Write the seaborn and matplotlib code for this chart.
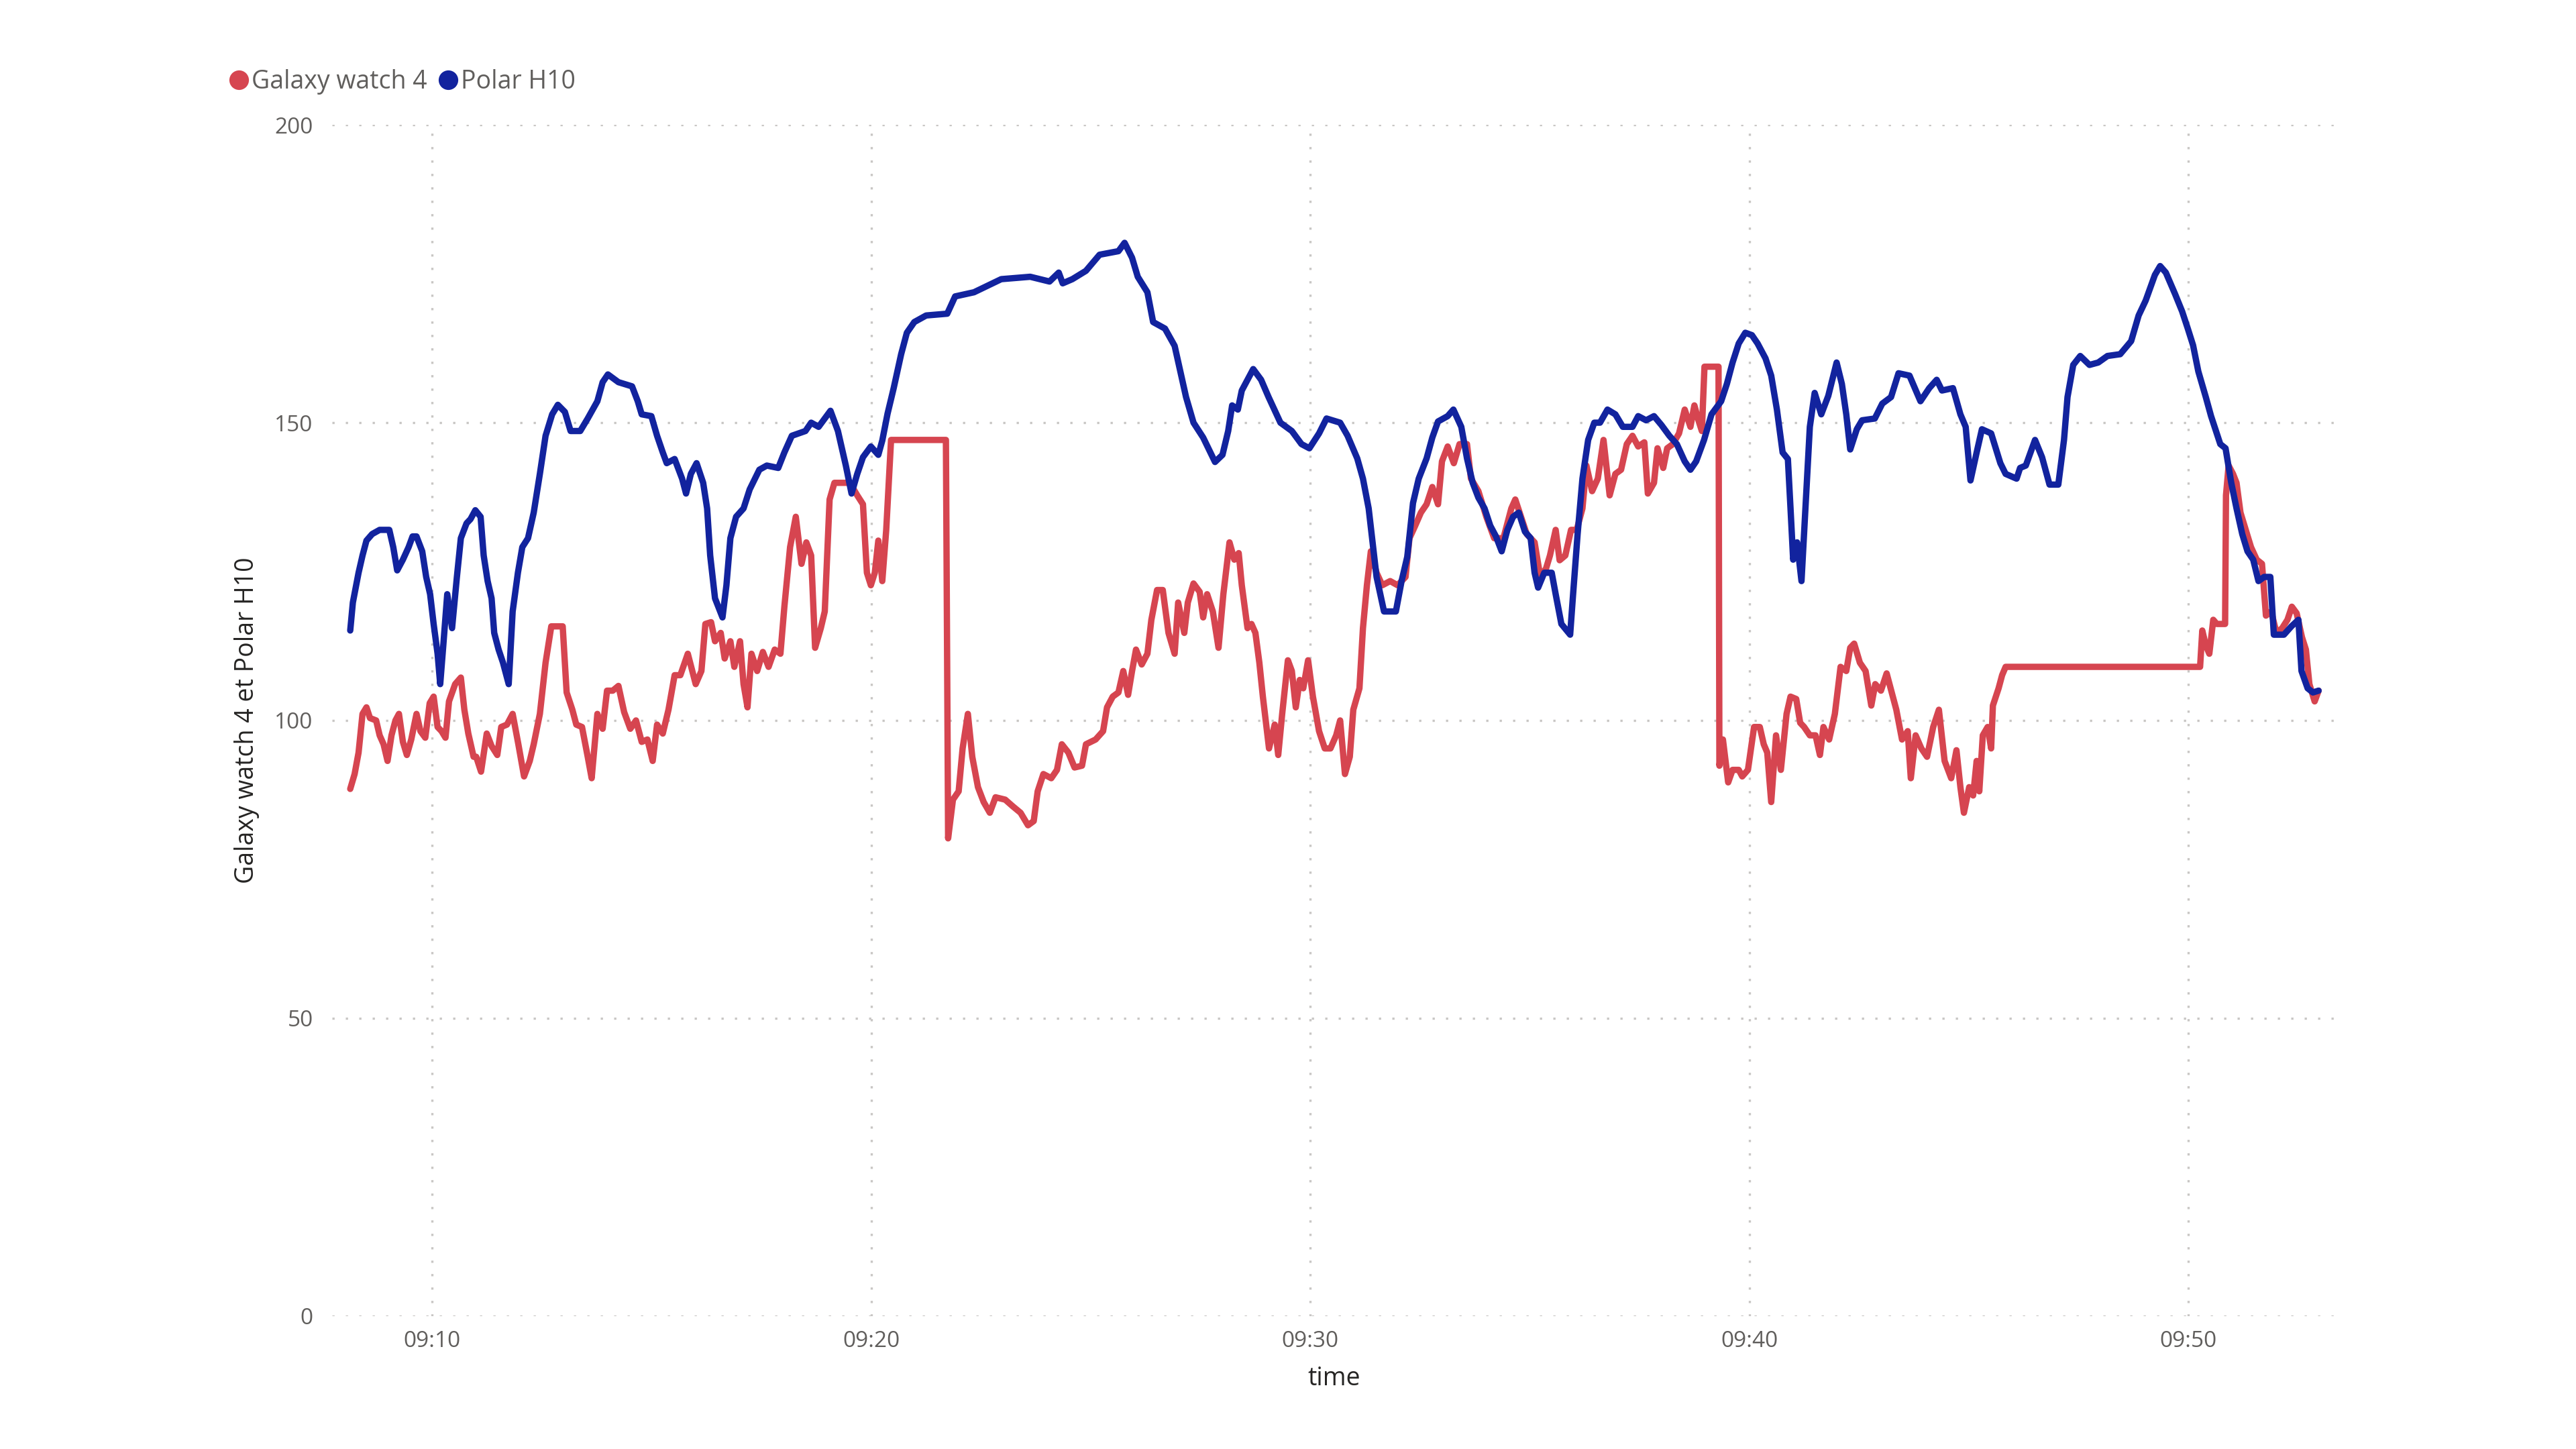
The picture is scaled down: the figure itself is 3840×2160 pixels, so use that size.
import numpy as np
import pandas as pd
import matplotlib
matplotlib.use('Agg')
import matplotlib.pyplot as plt
import matplotlib.dates as mdates
from matplotlib.lines import Line2D
import seaborn as sns

# minutes after 09:00 and heart rate (bpm)
galaxy_min = [8.13, 8.23, 8.32, 8.41, 8.50, 8.58, 8.72, 8.80, 8.89, 8.98, 9.07, 9.16, 9.24, 9.33, 9.42,
              9.52, 9.64, 9.73, 9.84, 9.94, 10.03, 10.12, 10.21, 10.30, 10.38, 10.52, 10.65, 10.73,
              10.82, 10.94, 11.00, 11.11, 11.24, 11.35, 11.48, 11.57, 11.70, 11.83, 11.96, 12.09, 12.22,
              12.31, 12.45, 12.58, 12.71, 12.97, 13.06, 13.19, 13.28, 13.41, 13.54, 13.63, 13.76, 13.88,
              13.98, 14.11, 14.24, 14.37, 14.51, 14.64, 14.77, 14.90, 15.02, 15.12, 15.25, 15.38, 15.52,
              15.65, 15.82, 16.00, 16.13, 16.22, 16.35, 16.44, 16.57, 16.66, 16.79, 16.88, 17.01, 17.09,
              17.18, 17.27, 17.40, 17.53, 17.66, 17.80, 17.93, 18.02, 18.15, 18.28, 18.41, 18.52, 18.63,
              18.72, 18.85, 18.94, 19.05, 19.16, 19.51, 19.68, 19.81, 19.90, 19.99, 20.08, 20.16, 20.25,
              20.34, 20.45, 21.70, 21.75, 21.86, 21.99, 22.08, 22.20, 22.30, 22.43, 22.56, 22.70, 22.83,
              23.05, 23.22, 23.40, 23.57, 23.70, 23.79, 23.92, 24.10, 24.23, 24.34, 24.49, 24.63, 24.80,
              24.89, 25.11, 25.28, 25.37, 25.50, 25.63, 25.74, 25.85, 25.94, 26.03, 26.16, 26.29, 26.38,
              26.51, 26.64, 26.77, 26.91, 26.99, 27.13, 27.21, 27.34, 27.48, 27.56, 27.65, 27.78, 27.91,
              28.02, 28.16, 28.27, 28.37, 28.44, 28.57, 28.66, 28.75, 28.84, 28.92, 29.06, 29.19, 29.27,
              29.36, 29.49, 29.58, 29.67, 29.76, 29.84, 29.95, 30.06, 30.20, 30.33, 30.46, 30.59, 30.68,
              30.79, 30.90, 30.98, 31.12, 31.20, 31.29, 31.38, 31.51, 31.64, 31.82, 31.99, 32.17, 32.26,
              32.39, 32.52, 32.65, 32.78, 32.91, 33.00, 33.13, 33.27, 33.40, 33.57, 33.66, 33.83, 34.01,
              34.19, 34.40, 34.58, 34.67, 34.80, 34.93, 35.11, 35.24, 35.37, 35.46, 35.59, 35.68, 35.81,
              35.94, 36.07, 36.20, 36.29, 36.42, 36.55, 36.68, 36.82, 36.95, 37.08, 37.21, 37.34, 37.47,
              37.61, 37.69, 37.83, 37.91, 38.04, 38.13, 38.26, 38.40, 38.53, 38.66, 38.75, 38.83, 38.92,
              38.98, 39.30, 39.32, 39.40, 39.52, 39.62, 39.76, 39.84, 39.97, 40.11, 40.24, 40.33, 40.41,
              40.50, 40.61, 40.72, 40.85, 40.94, 41.07, 41.16, 41.25, 41.38, 41.51, 41.61, 41.69, 41.82,
              41.95, 42.08, 42.21, 42.30, 42.39, 42.52, 42.65, 42.78, 42.87, 43.00, 43.13, 43.22, 43.35,
              43.48, 43.61, 43.68, 43.79, 43.92, 44.05, 44.19, 44.32, 44.45, 44.60, 44.72, 44.81, 44.89,
              45.01, 45.10, 45.18, 45.24, 45.32, 45.43, 45.51, 45.55, 45.68, 45.76, 45.84, 50.27, 50.32,
              50.40, 50.48, 50.57, 50.65, 50.84, 50.86, 50.92, 51.02, 51.10, 51.19, 51.31, 51.43, 51.56,
              51.68, 51.77, 51.89, 52.01, 52.14, 52.26, 52.36, 52.47, 52.59, 52.68, 52.76, 52.88, 52.97]
galaxy_bpm = [88.5, 91.0, 94.6, 101.1, 102.2, 100.4, 100.0, 97.5, 96.0, 93.2, 97.5, 100.0, 101.1, 96.4, 94.2,
              96.8, 101.1, 98.2, 97.1, 102.9, 104.0, 98.9, 98.2, 97.1, 103.2, 106.1, 107.2, 101.8,
              97.8, 93.9, 93.9, 91.4, 97.8, 95.7, 94.2, 98.9, 99.3, 101.1, 96.0, 90.6, 93.2,
              96.0, 101.1, 109.7, 115.8, 115.8, 104.7, 101.8, 99.3, 98.9, 93.9, 90.3, 101.1, 98.6,
              105.0, 105.0, 105.8, 101.4, 98.6, 100.0, 96.4, 96.8, 93.2, 99.3, 97.8, 101.8, 107.6,
              107.6, 111.2, 106.1, 108.3, 116.2, 116.5, 113.3, 114.7, 110.4, 113.3, 109.0, 113.3, 106.1,
              102.2, 111.2, 108.3, 111.5, 109.0, 111.9, 111.2, 119.1, 129.1, 134.2, 126.3, 129.9, 127.7,
              112.2, 115.5, 118.3, 137.1, 139.9, 139.9, 137.8, 136.3, 124.8, 122.7, 124.8, 130.2, 123.4,
              132.0, 147.1, 147.1, 80.2, 86.7, 88.1, 95.3, 101.1, 93.9, 88.8, 86.3, 84.5, 87.1,
              86.7, 85.6, 84.5, 82.4, 83.1, 88.1, 91.0, 90.3, 91.7, 96.0, 94.6, 92.1, 92.4,
              96.0, 96.8, 98.2, 102.2, 104.0, 104.7, 108.3, 104.3, 108.3, 111.9, 109.4, 111.2, 116.9,
              121.9, 121.9, 114.7, 111.2, 119.8, 114.7, 119.8, 123.0, 121.6, 117.3, 121.2, 118.3, 112.2,
              121.2, 129.9, 127.0, 128.1, 122.7, 115.5, 116.2, 114.7, 109.7, 104.0, 95.3, 99.3, 94.2,
              101.1, 110.1, 108.3, 102.2, 106.8, 105.4, 110.1, 104.0, 98.2, 95.3, 95.3, 97.5, 100.0,
              91.0, 93.9, 101.8, 105.4, 115.5, 122.7, 128.4, 124.8, 122.7, 123.4, 122.7, 124.1, 130.6,
              132.7, 134.9, 136.3, 139.2, 136.3, 143.5, 146.0, 143.2, 146.4, 146.4, 140.6, 138.5, 134.2,
              130.6, 130.6, 135.6, 137.1, 134.2, 131.3, 129.9, 124.1, 125.5, 127.7, 132.0, 126.9, 127.7,
              132.0, 132.0, 135.6, 142.8, 138.5, 140.6, 147.1, 137.8, 141.4, 142.1, 146.4, 147.8, 146.0,
              146.7, 138.1, 139.9, 145.7, 142.4, 145.7, 146.4, 148.2, 152.2, 149.3, 152.9, 150.7, 148.6,
              159.4, 159.4, 92.4, 96.8, 89.6, 91.7, 91.7, 90.6, 91.7, 98.9, 98.9, 96.0, 94.6,
              86.3, 97.5, 91.7, 101.1, 104.0, 103.6, 99.6, 98.9, 97.5, 97.5, 94.2, 98.9, 96.8,
              101.1, 109.0, 108.3, 112.2, 112.9, 109.7, 108.3, 102.5, 106.1, 105.0, 107.9, 105.4, 101.8,
              96.8, 98.2, 90.3, 97.5, 95.3, 93.9, 98.9, 101.8, 93.2, 90.3, 95.0, 88.8, 84.5,
              88.8, 87.4, 93.2, 88.1, 97.5, 98.9, 95.3, 102.5, 105.4, 107.6, 109.0, 109.0, 115.1,
              112.6, 111.2, 116.9, 116.2, 116.2, 137.8, 142.8, 141.4, 139.9, 134.9, 132.0, 129.1, 127.0,
              126.3, 117.6, 118.3, 114.7, 115.5, 116.9, 119.1, 118.0, 114.0, 111.9, 106.1, 103.2, 105.0]

polar_min = [8.13, 8.19, 8.32, 8.41, 8.50, 8.63, 8.80, 9.02, 9.11, 9.20, 9.33, 9.46, 9.55, 9.64, 9.77,
             9.86, 9.95, 10.03, 10.12, 10.18, 10.25, 10.34, 10.45, 10.56, 10.65, 10.78, 10.87, 10.98,
             11.10, 11.17, 11.26, 11.35, 11.41, 11.51, 11.61, 11.74, 11.83, 11.95, 12.05, 12.18, 12.31,
             12.45, 12.58, 12.73, 12.86, 13.02, 13.15, 13.37, 13.54, 13.76, 13.88, 14.00, 14.24, 14.55,
             14.68, 14.77, 14.99, 15.12, 15.25, 15.34, 15.52, 15.69, 15.78, 15.89, 16.02, 16.17, 16.26,
             16.33, 16.44, 16.61, 16.70, 16.79, 16.92, 17.09, 17.23, 17.45, 17.62, 17.88, 18.02, 18.19,
             18.50, 18.63, 18.80, 19.07, 19.24, 19.42, 19.55, 19.68, 19.81, 19.99, 20.16, 20.25, 20.37,
             20.51, 20.68, 20.81, 20.98, 21.25, 21.73, 21.91, 22.34, 22.65, 22.96, 23.62, 24.06, 24.27,
             24.36, 24.58, 24.89, 25.20, 25.63, 25.77, 25.94, 26.07, 26.29, 26.42, 26.69, 26.91, 27.04,
             27.17, 27.34, 27.56, 27.83, 28.00, 28.13, 28.22, 28.35, 28.44, 28.70, 28.88, 29.05, 29.32,
             29.58, 29.80, 29.98, 30.20, 30.37, 30.68, 30.85, 31.07, 31.20, 31.33, 31.42, 31.51, 31.68,
             31.95, 32.08, 32.21, 32.34, 32.47, 32.65, 32.78, 32.91, 33.13, 33.26, 33.44, 33.57, 33.70,
             33.83, 33.97, 34.10, 34.23, 34.36, 34.49, 34.62, 34.75, 34.89, 35.02, 35.11, 35.19, 35.33,
             35.50, 35.59, 35.72, 35.92, 35.98, 36.09, 36.20, 36.33, 36.47, 36.60, 36.77, 36.95, 37.12,
             37.34, 37.47, 37.65, 37.83, 38.00, 38.18, 38.35, 38.53, 38.66, 38.79, 38.97, 39.14, 39.36,
             39.49, 39.62, 39.76, 39.91, 40.06, 40.19, 40.37, 40.50, 40.63, 40.76, 40.88, 40.94, 41.00,
             41.09, 41.19, 41.29, 41.38, 41.49, 41.64, 41.80, 41.99, 42.11, 42.21, 42.30, 42.45, 42.57,
             42.86, 43.03, 43.23, 43.40, 43.65, 43.90, 44.10, 44.27, 44.39, 44.64, 44.81, 44.93, 45.04,
             45.18, 45.30, 45.51, 45.72, 45.84, 46.09, 46.17, 46.30, 46.51, 46.67, 46.84, 47.04, 47.17,
             47.25, 47.38, 47.54, 47.75, 47.95, 48.16, 48.45, 48.70, 48.87, 49.03, 49.24, 49.36, 49.49,
             49.70, 49.86, 49.99, 50.11, 50.23, 50.40, 50.52, 50.73, 50.85, 50.98, 51.10, 51.23, 51.35,
             51.48, 51.60, 51.73, 51.87, 51.95, 52.18, 52.35, 52.51, 52.58, 52.72, 52.84, 52.97]
polar_bpm = [115.1, 119.8, 124.8, 127.7, 130.2, 131.3, 132.0, 132.0, 129.1, 125.2, 127.0, 129.1, 130.9, 130.9, 128.4,
             124.1, 121.2, 116.2, 111.2, 106.1, 112.6, 121.2, 115.5, 124.1, 130.6, 133.1, 133.8, 135.3,
             134.2, 127.7, 123.4, 120.5, 114.7, 111.9, 109.7, 106.1, 118.3, 124.8, 129.1, 130.6, 134.9,
             141.4, 147.8, 151.4, 153.0, 151.8, 148.6, 148.6, 150.7, 153.6, 156.8, 158.1, 156.8, 156.1,
             153.6, 151.4, 151.1, 147.8, 145.0, 143.2, 143.9, 140.6, 138.1, 141.4, 143.2, 139.9, 135.6,
             127.7, 120.5, 117.3, 122.7, 130.6, 134.2, 135.6, 138.8, 142.1, 142.8, 142.4, 145.0, 147.8,
             148.6, 150.0, 149.3, 152.0, 148.6, 142.8, 138.1, 141.4, 144.2, 146.0, 144.6, 147.0, 151.5,
             155.8, 161.5, 165.1, 166.9, 168.0, 168.3, 171.2, 171.9, 173.0, 174.1, 174.5, 173.7, 175.2,
             173.4, 174.1, 175.5, 178.2, 178.8, 180.2, 177.7, 174.5, 171.9, 166.9, 165.8, 162.9, 158.6,
             154.3, 150.0, 147.5, 143.4, 144.6, 148.6, 152.9, 152.2, 155.4, 159.0, 157.2, 154.3, 150.0,
             148.6, 146.4, 145.7, 148.2, 150.7, 150.0, 147.8, 144.0, 140.6, 135.6, 129.9, 124.1, 118.3,
             118.3, 123.4, 127.5, 136.5, 140.6, 144.0, 147.5, 150.2, 151.1, 152.2, 149.3, 144.0, 139.9,
             137.4, 135.6, 132.7, 130.9, 128.4, 132.0, 134.2, 134.9, 131.7, 130.6, 124.8, 122.3, 124.8,
             124.8, 121.2, 116.2, 114.4, 120.5, 131.3, 140.6, 147.1, 150.0, 150.0, 152.2, 151.4, 149.3,
             149.3, 151.1, 150.4, 151.1, 149.6, 147.8, 146.4, 143.5, 142.1, 143.5, 147.1, 151.4, 153.6,
             156.5, 160.1, 163.3, 165.1, 164.7, 163.3, 160.8, 157.9, 152.2, 145.0, 143.9, 135.6, 127.0,
             129.9, 123.4, 137.1, 149.3, 155.0, 151.4, 154.5, 160.1, 156.5, 151.4, 145.5, 148.9, 150.4,
             150.7, 153.2, 154.3, 158.3, 157.9, 153.6, 155.8, 157.2, 155.4, 155.8, 151.4, 149.3, 140.3,
             145.0, 148.9, 148.2, 143.2, 141.4, 140.6, 142.4, 142.8, 147.1, 144.2, 139.6, 139.6, 147.1,
             154.3, 159.7, 161.2, 159.7, 160.1, 161.2, 161.5, 163.7, 168.0, 170.5, 174.8, 176.3, 175.2,
             171.6, 168.7, 165.8, 163.0, 158.6, 154.3, 151.1, 146.4, 145.7, 139.9, 135.6, 131.3, 128.4,
             127.0, 123.4, 124.1, 124.1, 114.4, 114.4, 115.8, 116.9, 108.3, 105.4, 104.7, 105.0]

series_names = ['Galaxy watch 4', 'Polar H10']
series_colors = ['#D64550', '#12239E']
y_ticks = [0, 50, 100, 150, 200]
x_ticks_min = [10, 20, 30, 40, 50]
x_range_min = [7.71, 53.37]

start = pd.Timestamp('2022-01-01 09:00')


def to_time(minutes):
    return start + pd.to_timedelta(np.array(minutes, dtype=float), unit='min')


df = pd.concat([
    pd.DataFrame({'time': to_time(galaxy_min), 'bpm': galaxy_bpm, 'device': series_names[0]}),
    pd.DataFrame({'time': to_time(polar_min), 'bpm': polar_bpm, 'device': series_names[1]}),
], ignore_index=True)

sns.set_style('white')
plt.rcParams['font.family'] = ['Open Sans', 'DejaVu Sans']

grey = '#605E5C'
dark = '#252423'
grid_col = '#C8C6C4'

fig = plt.figure(figsize=(19.2, 10.8), dpi=200)
ax = fig.add_axes([0.1288, 0.0918, 0.7781, 0.822])

sns.lineplot(data=df, x='time', y='bpm', hue='device', hue_order=series_names,
             palette=series_colors, estimator=None, sort=False, linewidth=3.4,
             legend=False, ax=ax)

ax.set_ylim(0, 200)
ax.set_xlim(to_time(x_range_min))
ax.set_yticks(y_ticks)
ax.set_xticks(to_time(x_ticks_min))
ax.xaxis.set_major_formatter(mdates.DateFormatter('%H:%M'))

# grille en pointilles facon Power BI
ax.grid(True, color=grid_col, linestyle=(0, (1, 5)), linewidth=1.2)
ax.set_axisbelow(True)
for s in ax.spines.values():
    s.set_visible(False)

ax.tick_params(axis='both', length=0, labelsize=12, labelcolor=grey)
ax.tick_params(axis='y', pad=10)
ax.tick_params(axis='x', pad=7.5)

ax.set_xlabel('time', fontsize=13.5, color=dark)
ax.set_ylabel('Galaxy watch 4 et Polar H10', fontsize=13.5, color=dark)
ax.xaxis.set_label_coords(0.5, -0.042)
ax.yaxis.set_label_coords(-0.036, 0.5)

handles = [Line2D([], [], marker='o', linestyle='', markersize=9.5, color=c) for c in series_colors]
fig.legend(handles, series_names, loc='center left', bbox_to_anchor=(0.0893, 0.9435),
           ncol=2, frameon=False, fontsize=13.5, labelcolor=grey, handlelength=0.7,
           handletextpad=0.15, columnspacing=0.5, borderpad=0, borderaxespad=0)

fig.savefig('out.png', dpi=200, facecolor='white')
